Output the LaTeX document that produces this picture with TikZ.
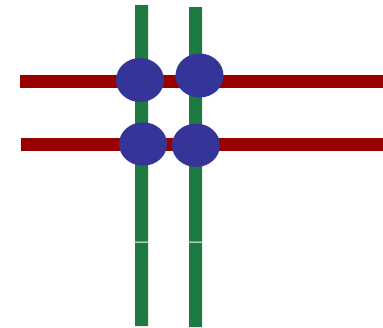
\documentclass[tikz,border=0pt]{standalone}
\definecolor{barGreen}{RGB}{28,122,66}
\definecolor{barRed}{RGB}{153,0,0}
\definecolor{blobBlue}{RGB}{53,53,153}
\begin{document}
\begin{tikzpicture}[x=1pt, y=-1pt, line cap=round, line join=round]
			\useasboundingbox (0,0) rectangle (383,327);
			% vertical bars, each cut once near the bottom
			\fill[barGreen] (135,5) rectangle (148,241.7) (135,242.7) rectangle (148,326);
			\fill[barGreen] (189,7) rectangle (202,241.7) (189,242.7) rectangle (202,327);
			% horizontal bars
			\fill[barRed] (20,75) rectangle (383,88);
			\fill[barRed] (21,138) rectangle (383,151);
			% crossings
			\fill[blobBlue] (140,80) ellipse (24 and 22);
			\fill[blobBlue] (199.5,75.5) ellipse (24 and 22);
			\fill[blobBlue] (143,144) ellipse (24 and 21.7);
			\fill[blobBlue] (196,145.3) ellipse (24 and 21.7);
		\end{tikzpicture}
\end{document}
